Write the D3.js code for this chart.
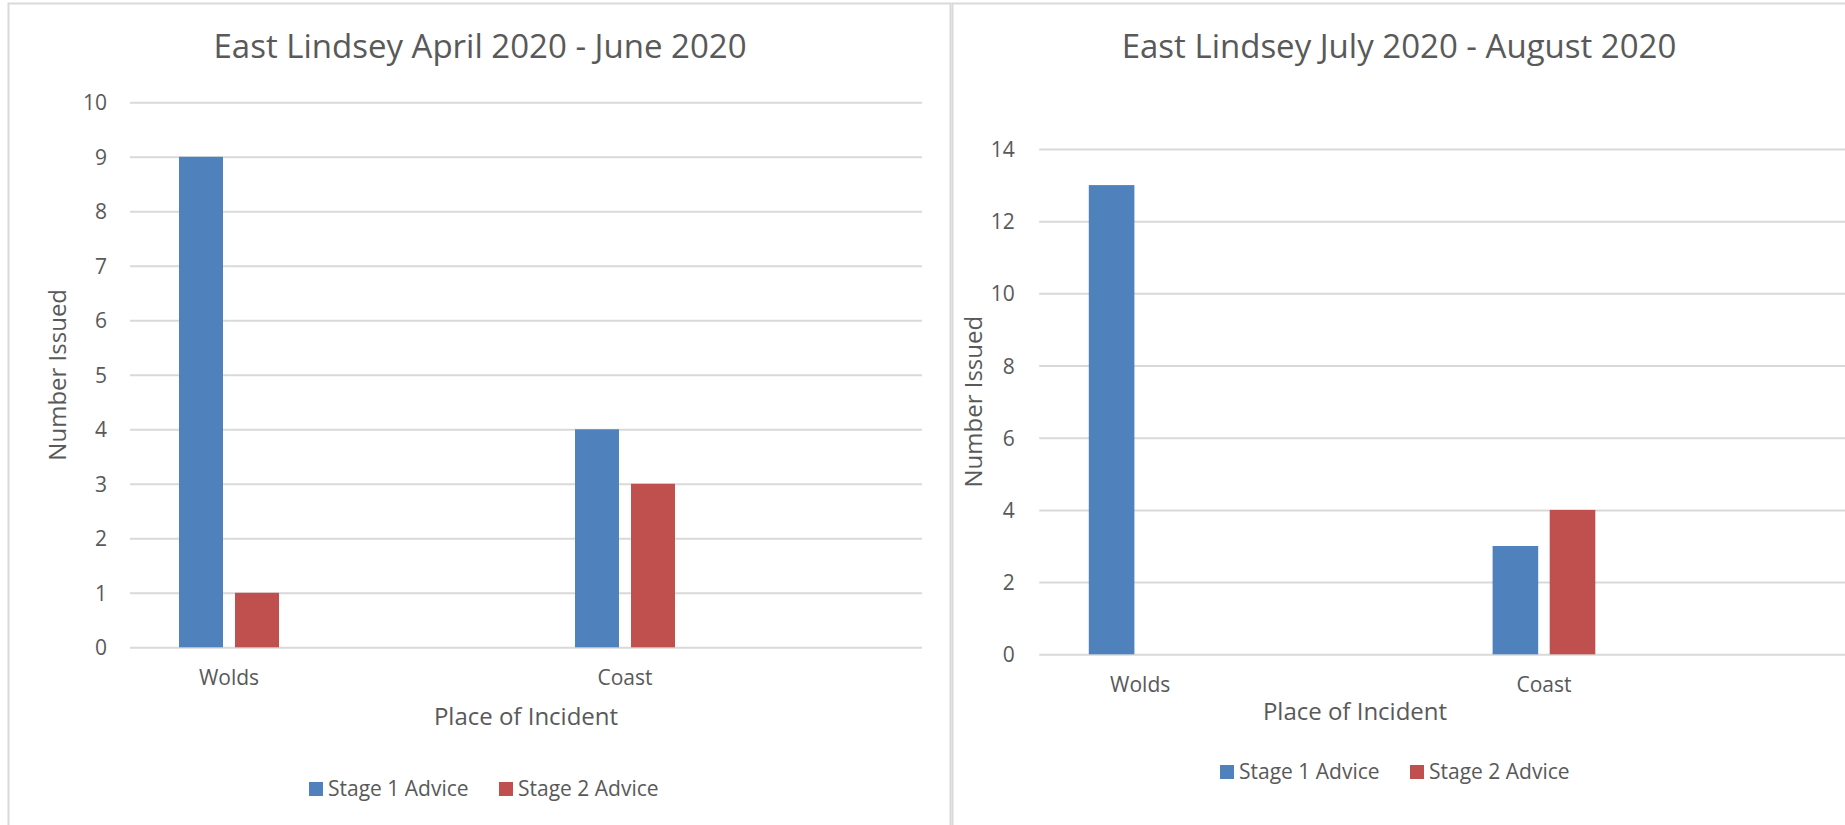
<!DOCTYPE html>
<html>
<head>
<meta charset="utf-8">
<script src="https://cdn.jsdelivr.net/npm/d3@7"></script>
<style>
  html, body { margin: 0; padding: 0; background: #ffffff; }
  svg { display: block; }
  text { font-family: "Open Sans", "Noto Sans", sans-serif; fill: #595959; }
</style>
</head>
<body>
<svg id="chart" width="1845" height="825"></svg>
<script>
// Place of incident (the sheet keeps blank rows between the two areas)
const categories = ["Wolds", "", "Coast", ""];
const seriesNames = ["Stage 1 Advice", "Stage 2 Advice"];
const seriesColors = ["#4F81BD", "#C0504D"];

// April 2020 - June 2020
const aprJunTitle = "East Lindsey April 2020 - June 2020";
const aprJunStage1 = [9, null, 4, null];
const aprJunStage2 = [1, null, 3, null];
const aprJunTicks = [0, 1, 2, 3, 4, 5, 6, 7, 8, 9, 10];

// July 2020 - August 2020
const julAugTitle = "East Lindsey July 2020 - August 2020";
const julAugStage1 = [13, null, 3, null];
const julAugStage2 = [0, null, 4, null];
const julAugTicks = [0, 2, 4, 6, 8, 10, 12, 14];

const yTitle = "Number Issued";
const xTitle = "Place of Incident";

const svg = d3.select("#chart");

function drawPanel(cfg) {
  const g = svg.append("g");

  // chart frame
  g.append("rect")
    .attr("x", cfg.frame[0]).attr("y", cfg.frame[1])
    .attr("width", cfg.frame[2]).attr("height", cfg.frame[3])
    .attr("fill", "#ffffff")
    .attr("stroke", "#d9d9d9")
    .attr("stroke-width", 2);

  const x = d3.scaleBand()
    .domain(d3.range(categories.length))
    .range([cfg.plotLeft, cfg.plotRight]);

  const half = cfg.barWidth + cfg.barGap / 2;
  const xInner = d3.scaleBand()
    .domain(seriesNames)
    .range([-half, half])
    .paddingInner(cfg.barGap / (cfg.barWidth + cfg.barGap));

  const y = d3.scaleLinear()
    .domain([0, d3.max(cfg.ticks)])
    .range([cfg.plotBottom, cfg.plotTop]);

  // gridlines + value axis labels
  const yAxis = d3.axisLeft(y).tickValues(cfg.ticks).tickSize(0).tickPadding(0);
  const yg = g.append("g").attr("transform", `translate(${cfg.plotLeft},0)`).call(yAxis);
  yg.select(".domain").remove();
  yg.selectAll(".tick text")
    .attr("x", -cfg.tickGap)
    .attr("dy", "0.36em")
    .attr("font-size", 21)
    .attr("font-family", "Open Sans, sans-serif")
    .attr("fill", "#595959");
  yg.selectAll(".tick line")
    .attr("x2", cfg.plotRight - cfg.plotLeft)
    .attr("stroke", "#d9d9d9")
    .attr("stroke-width", 2);

  // category labels
  const xAxis = d3.axisBottom(x).tickFormat(i => categories[i]).tickSize(0).tickPadding(0);
  const xg = g.append("g").attr("transform", `translate(0,${cfg.plotBottom})`).call(xAxis);
  xg.select(".domain").remove();
  xg.selectAll(".tick text")
    .attr("y", cfg.catOffset)
    .attr("dy", 0)
    .attr("font-size", 21)
    .attr("font-family", "Open Sans, sans-serif")
    .attr("fill", "#595959");

  // bars
  const rows = [];
  cfg.series.forEach((vals, s) => {
    vals.forEach((v, i) => {
      if (v != null && v > 0) rows.push({ i, s, v });
    });
  });
  g.append("g").selectAll("rect")
    .data(rows)
    .join("rect")
    .attr("x", d => x(d.i) + x.bandwidth() / 2 + xInner(seriesNames[d.s]))
    .attr("width", xInner.bandwidth())
    .attr("y", d => y(d.v))
    .attr("height", d => y(0) - y(d.v))
    .attr("fill", d => seriesColors[d.s]);

  // titles
  g.append("text")
    .attr("x", cfg.titleX).attr("y", cfg.titleY)
    .attr("text-anchor", "middle")
    .attr("font-size", 33)
    .text(cfg.title);

  g.append("text")
    .attr("transform", `translate(${cfg.yTitleX},${(cfg.plotTop + cfg.plotBottom) / 2}) rotate(-90)`)
    .attr("text-anchor", "middle")
    .attr("dy", "0.36em")
    .attr("font-size", 24)
    .text(yTitle);

  g.append("text")
    .attr("x", cfg.xTitleX).attr("y", cfg.xTitleY)
    .attr("text-anchor", "middle")
    .attr("font-size", 24)
    .text(xTitle);

  // legend
  const lg = g.append("g");
  seriesNames.forEach((name, s) => {
    const lx = cfg.legendX[s];
    lg.append("rect")
      .attr("x", lx).attr("y", cfg.legendY - 14)
      .attr("width", 14).attr("height", 14)
      .attr("fill", seriesColors[s]);
    lg.append("text")
      .attr("x", lx + 19).attr("y", cfg.legendY)
      .attr("font-size", 21)
      .text(name);
  });
}

drawPanel({
  frame: [8.5, 3.5, 942, 840],
  title: aprJunTitle, titleX: 480, titleY: 58,
  series: [aprJunStage1, aprJunStage2],
  ticks: aprJunTicks,
  plotLeft: 130, plotRight: 922, plotTop: 102.3, plotBottom: 647.3,
  barWidth: 44, barGap: 12, tickGap: 23,
  catOffset: 38,
  yTitleX: 57, xTitleX: 526, xTitleY: 725,
  legendX: [309, 499], legendY: 796
});

drawPanel({
  frame: [952.5, 3.5, 960, 840],
  title: julAugTitle, titleX: 1399, titleY: 58,
  series: [julAugStage1, julAugStage2],
  ticks: julAugTicks,
  plotLeft: 1039.2, plotRight: 1846.8, plotTop: 149, plotBottom: 654.3,
  barWidth: 45.6, barGap: 11.5, tickGap: 24.5,
  catOffset: 38,
  yTitleX: 973, xTitleX: 1355, xTitleY: 720,
  legendX: [1220, 1410], legendY: 779
});
</script>
</body>
</html>
